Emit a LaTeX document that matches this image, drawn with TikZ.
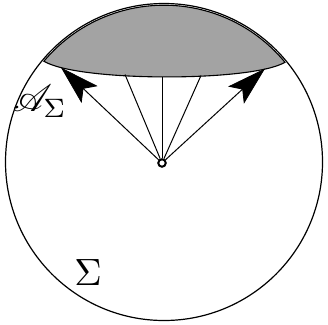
\documentclass[tikz,border=0pt]{standalone}
\usepackage{graphicx}
\usepackage{mathrsfs}
\usetikzlibrary{calc}
\tikzset{
  rim/.style={line width=1.2pt},
  ray/.style={line width=1pt},
  headfill/.style={fill=black,draw=black,line width=0.8pt,line join=miter},
  capfill/.style={fill=black!36,draw=black,line width=1.1pt},
  lbl/.style={inner sep=0pt}
}
\newcommand{\bigtxt}[1]{\scalebox{3.8}{#1}}
\begin{document}
\begin{tikzpicture}[x=1pt,y=-1pt]
\useasboundingbox (0,0) rectangle (328,324);
\node[circle,rim,draw,minimum size=317pt,inner sep=0pt] (S) at (164,162) {};
% grey cap
\coordinate (L) at ({164+156.8*cos(140)},{162-156.8*sin(140)});
\coordinate (R) at ({164+156.8*cos(39.5)},{162-156.8*sin(39.5)});
\draw[capfill] (L) arc[start angle=-140,end angle=-39.5,radius=156.8] .. controls (252,82) and (78,82) .. (L) -- cycle;
\node[circle,draw,line width=2pt,minimum size=7.5pt,inner sep=0pt] (O) at (162,163) {};
\coordinate (t1) at (62,68.5);
\coordinate (t2) at (125,74.5);
\coordinate (t3) at (162,76.5);
\coordinate (t4) at (201,75.5);
\coordinate (t5) at (264,69.5);
\draw[ray] (O) -- (t1);
\draw[ray] (O) -- (t2);
\draw[ray] (O) -- (t3);
\draw[ray] (O) -- (t4);
\draw[ray] (O) -- (t5);
% arrowheads
\foreach \t in {t1,t5}{
  \coordinate (b) at ($(\t)!37pt!(O)$);
  \coordinate (n) at ($(\t)!29pt!(O)$);
  \fill[headfill] (\t) -- ($(b)!11pt!90:(\t)$) -- (n) -- ($(b)!11pt!-90:(\t)$) -- cycle;
}
\node[lbl] (A) at (40,101) {\bigtxt{$\mathscr{A}_\Sigma$}};
\node[lbl] (Sig) at (88,273) {\bigtxt{$\Sigma$}};
\end{tikzpicture}
\end{document}
